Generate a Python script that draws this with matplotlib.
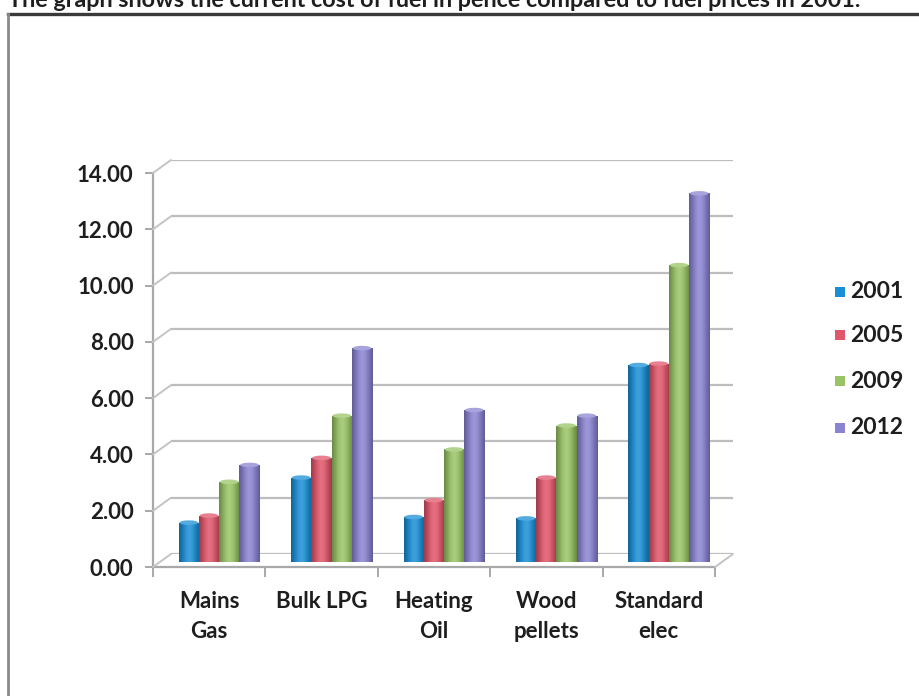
import matplotlib
matplotlib.use("Agg")
import matplotlib.pyplot as plt
import numpy as np
from matplotlib.patches import Rectangle, Ellipse, ConnectionPatch
from matplotlib.lines import Line2D
from matplotlib.colors import to_rgb

plt.rcParams['font.family'] = ['Lato', 'DejaVu Sans']

# ---- data -------------------------------------------------------------
title = "The graph shows the current cost of fuel in pence compared to fuel prices in 2001."
categories = ["Mains\nGas", "Bulk LPG", "Heating\nOil", "Wood\npellets", "Standard\nelec"]
years = ["2001", "2005", "2009", "2012"]
price_2001 = [1.40, 3.00, 1.60, 1.55, 7.00]
price_2005 = [1.65, 3.70, 2.20, 3.00, 7.05]
price_2009 = [2.85, 5.20, 4.00, 4.85, 10.55]
price_2012 = [3.45, 7.60, 5.40, 5.20, 13.10]
y_ticks = [0, 2, 4, 6, 8, 10, 12, 14]
colors = ["#1b8fd6", "#e0566a", "#98c465", "#8a84d2"]

series = [price_2001, price_2005, price_2009, price_2012]

# ---- figure geometry (pixels) -----------------------------------------
W, H = 919, 696
fig = plt.figure(figsize=(W / 100, H / 100), dpi=100)
fig.patch.set_facecolor("white")


def fx(px):
    return px / W


def fy(py):
    return 1 - py / H


front_l, front_r, front_b, front_t = 153, 715, 567, 173
width = fx(front_r) - fx(front_l)
height = fy(front_t) - fy(front_b)


def shifted(dx, dy):
    return [fx(front_l + dx), fy(front_b + dy), width, height]


ymax = 14
ncat = len(categories)

# back wall with gridlines
wall = fig.add_axes(shifted(18, -13))
wall.set_xlim(0, ncat)
wall.set_ylim(0, ymax)
wall.axis("off")
for t in y_ticks:
    wall.axhline(t, color="#bdbdbd", lw=1.6, zorder=1)

# front axes: spines, ticks and labels
ax = fig.add_axes(shifted(0, 0))
ax.set_xlim(0, ncat)
ax.set_ylim(0, ymax)
ax.patch.set_visible(False)
for s in ["top", "right"]:
    ax.spines[s].set_visible(False)
for s in ["left", "bottom"]:
    ax.spines[s].set_color("#a8a8a8")
    ax.spines[s].set_linewidth(1.6)
ax.set_yticks(y_ticks)
ax.set_yticklabels([f"{t:.2f}" for t in y_ticks])
ax.tick_params(axis="y", length=6, width=1.4, color="#a8a8a8", pad=8,
               labelsize=16, labelcolor="#1e1e1e")
for lbl in ax.get_yticklabels():
    lbl.set_fontweight("bold")
ax.set_xticks(np.arange(ncat + 1))
ax.set_xticklabels([])
ax.tick_params(axis="x", length=7, width=1.4, color="#a8a8a8")
ax.set_xticks(np.arange(ncat) + 0.5, minor=True)
ax.set_xticklabels(categories, minor=True, fontsize=16, fontweight="bold",
                   color="#1e1e1e", linespacing=1.55)
ax.tick_params(axis="x", which="minor", length=0, pad=17)

# side wall / floor connectors between front axis and back wall
for t in y_ticks:
    fig.add_artist(ConnectionPatch(xyA=(0, t), coordsA=ax.transData,
                                   xyB=(0, t), coordsB=wall.transData,
                                   color="#c4c4c4", lw=1.4))
fig.add_artist(ConnectionPatch(xyA=(ncat, 0), coordsA=ax.transData,
                               xyB=(ncat, 0), coordsB=wall.transData,
                               color="#c4c4c4", lw=1.4))

# bars, set back halfway into the depth of the chart
bx = fig.add_axes(shifted(10, -5))
bx.set_xlim(0, ncat)
bx.set_ylim(0, ymax)
bx.axis("off")

bar_w = 0.18
tt = np.linspace(0, 1, 48)
shape = np.sin(np.pi * tt)
for j, (vals, col) in enumerate(zip(series, colors)):
    base = np.array(to_rgb(col))
    grad = base[None, :] * (0.70 + 0.30 * shape[:, None]) \
        + (1 - base[None, :]) * 0.15 * shape[:, None] ** 3
    grad = np.clip(grad, 0, 1)[None, :, :]
    light = np.clip(base + (1 - base) * 0.25, 0, 1)
    xs = np.arange(ncat) + 0.5 + (j - 1.5) * bar_w
    bars = bx.bar(xs, vals, width=bar_w, color=col, edgecolor="none", zorder=2)
    for rect, v in zip(bars, vals):
        x0 = rect.get_x()
        im = bx.imshow(grad, extent=[x0, x0 + bar_w, 0, v], aspect="auto",
                       interpolation="bicubic", zorder=3)
        im.set_clip_path(rect)
        bx.add_patch(Ellipse((x0 + bar_w / 2, v), bar_w * 0.92, 0.16,
                             facecolor=light, edgecolor="none", zorder=4))
bx.set_xlim(0, ncat)
bx.set_ylim(0, ymax)

# legend
rows = [292, 335, 381, 428]
for yr, col, ry in zip(years, colors, rows):
    fig.add_artist(Rectangle((fx(835), fy(ry + 5)), fx(10), fy(ry - 5) - fy(ry + 5),
                             transform=fig.transFigure, facecolor=col,
                             edgecolor="none"))
    fig.text(fx(850), fy(ry), yr, fontsize=16.5, fontweight="bold",
             color="#1e1e1e", va="center", ha="left")

# heading, partly cut off at the top edge, and the frame lines
fig.text(fx(8), fy(7), title, fontsize=16.8, fontweight="bold",
         color="#1e1e1e", va="baseline", ha="left")
fig.add_artist(Line2D([fx(8), 1], [fy(14), fy(14)], transform=fig.transFigure,
                      color="#3a3a3a", lw=2.4))
fig.add_artist(Line2D([fx(8), fx(8)], [fy(14), 0], transform=fig.transFigure,
                      color="#8a8a8a", lw=2.0))

fig.savefig("out.png", dpi=100, facecolor="white")
